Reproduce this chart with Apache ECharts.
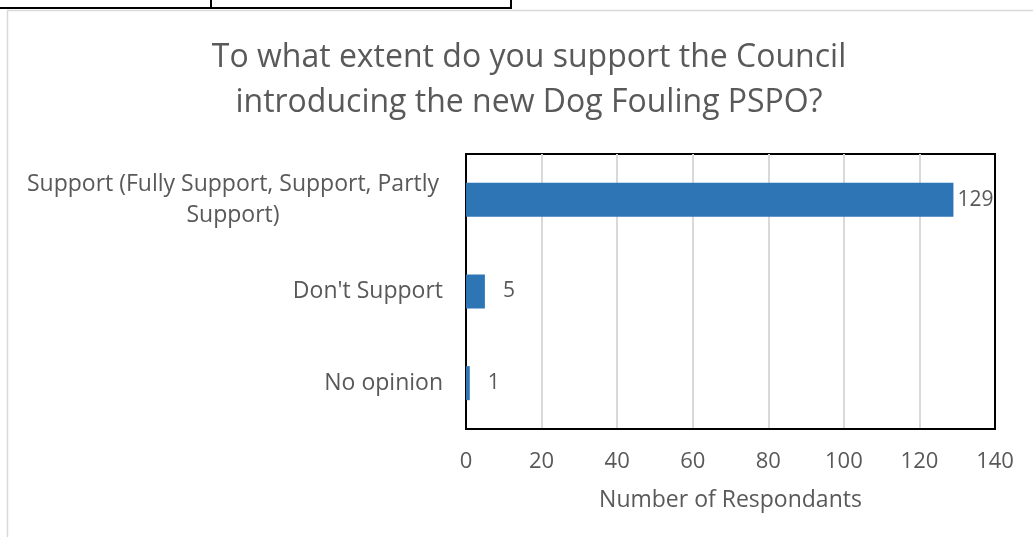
<!DOCTYPE html>
<html>
<head>
<meta charset="utf-8">
<script src="https://cdn.jsdelivr.net/npm/echarts@6/dist/echarts.min.js"></script>
<style>
  html, body { margin: 0; padding: 0; background: #fff; }
  #chart { width: 1033px; height: 537px; }
</style>
</head>
<body>
<div id="chart"></div>
<script>
// data
var categories = ["Support (Fully Support, Support, Partly Support)", "Don't Support", "No opinion"];
var respondents = [129, 5, 1];
var xTicks = [0, 20, 40, 60, 80, 100, 120, 140];

var font = '"Open Sans", sans-serif';
var grey = '#595959';
var blackLine = { show: true, lineStyle: { color: '#000', width: 2 } };

var myChart = echarts.init(document.getElementById('chart'));

var option = {
  backgroundColor: '#fff',
  animation: false,
  title: {
    text: 'To what extent do you support the Council\nintroducing the new Dog Fouling PSPO?',
    left: 524,
    top: 30,
    textAlign: 'center',
    textStyle: {
      fontFamily: font,
      fontSize: 32,
      fontWeight: 'normal',
      color: grey,
      lineHeight: 45
    }
  },
  grid: {
    left: 466,
    right: 38,
    top: 154,
    bottom: 108,
    show: true,
    borderColor: '#000',
    borderWidth: 2
  },
  xAxis: {
    type: 'value',
    min: xTicks[0],
    max: xTicks[xTicks.length - 1],
    interval: 20,
    name: 'Number of Respondants',
    nameLocation: 'middle',
    nameGap: 60,
    nameTextStyle: { fontFamily: font, fontSize: 23, color: grey },
    axisLine: blackLine,
    axisTick: { show: false },
    axisLabel: { margin: 22, fontFamily: font, fontSize: 22, color: grey },
    splitLine: { lineStyle: { color: '#d9d9d9', width: 2 } }
  },
  yAxis: [
    {
      type: 'category',
      inverse: true,
      data: categories,
      axisLine: blackLine,
      axisTick: { show: false },
      axisLabel: {
        margin: 23,
        align: 'right',
        fontFamily: font,
        fontSize: 23,
        color: grey,
        formatter: function (val) {
          if (val.length > 30) {
            // long label wraps, both lines centred (like Excel)
            return '{c|Support (Fully Support, Support, Partly}\n{c|Support)}';
          }
          return val;
        },
        rich: {
          c: { width: 420, align: 'center', fontFamily: font, fontSize: 23, color: grey, lineHeight: 31 }
        }
      }
    },
    {
      // only here to draw the right edge of the plot box
      type: 'category',
      position: 'right',
      inverse: true,
      data: categories,
      axisLine: blackLine,
      axisTick: { show: false },
      axisLabel: { show: false }
    }
  ],
  graphic: [
    // cut-off table above the chart
    { type: 'line', shape: { x1: 0, y1: 8, x2: 512, y2: 8 }, style: { stroke: '#000', lineWidth: 2 } },
    { type: 'line', shape: { x1: 211, y1: 0, x2: 211, y2: 8 }, style: { stroke: '#000', lineWidth: 2 } },
    { type: 'line', shape: { x1: 511, y1: 0, x2: 511, y2: 8 }, style: { stroke: '#000', lineWidth: 2 } },
    // chart frame
    { type: 'rect', shape: { x: 7.5, y: 10.5, width: 1040, height: 540 }, style: { fill: 'none', stroke: '#d9d9d9', lineWidth: 1.5 } }
  ],
  series: [
    {
      name: 'Respondents',
      type: 'bar',
      barWidth: 34,
      itemStyle: { color: '#2E75B6' },
      label: {
        show: true,
        position: 'right',
        distance: 18,
        fontFamily: font,
        fontSize: 21,
        color: grey
      },
      data: respondents.map(function (v, i) {
        if (i === 0) return { value: v, label: { distance: 4 } };
        return v;
      })
    }
  ]
};

myChart.setOption(option, true);
</script>
</body>
</html>
